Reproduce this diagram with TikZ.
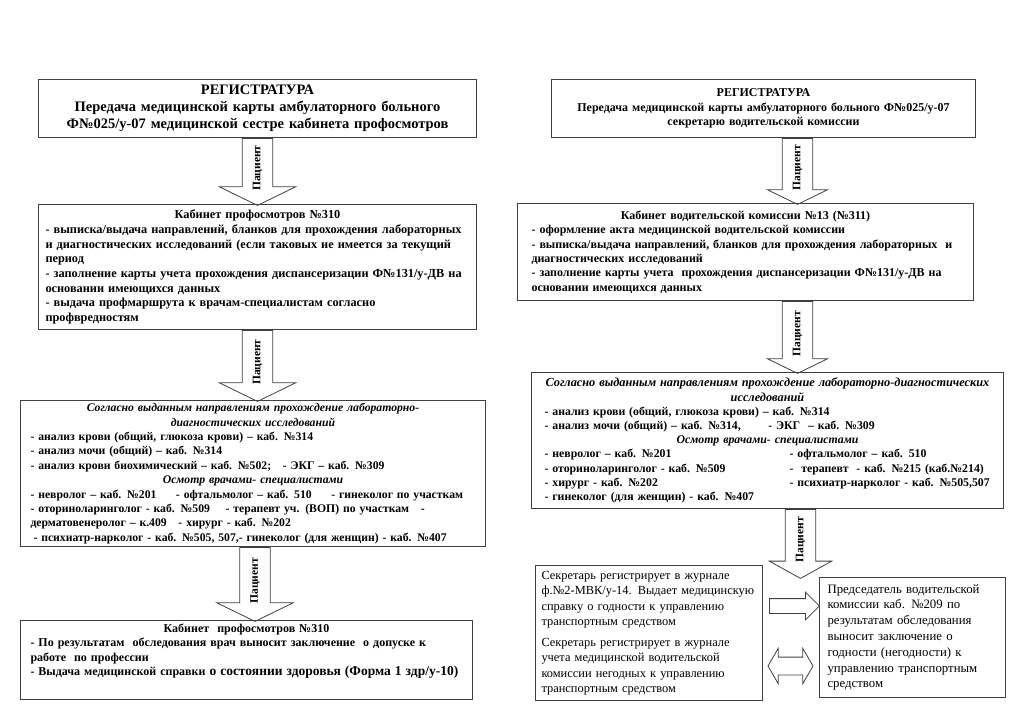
\documentclass[tikz,border=0pt]{standalone}
\usepackage{fontspec}
\setmainfont{Liberation Serif}
\usetikzlibrary{positioning}
\usetikzlibrary{calc}
\usetikzlibrary{shapes.arrows}

\newcommand{\fsz}[2]{\fontsize{#1}{#2}\selectfont}
\newcommand{\ctr}[1]{\makebox[\hsize][c]{#1}}
\newcommand{\leftcol}[1]{\makebox[245pt][l]{#1}}

\begin{document}
\begin{tikzpicture}[x=1pt, y=-1pt,
    box/.style={draw=black!75, line width=1pt, anchor=north west, inner xsep=8pt, inner ysep=2pt, align=left},
    patient/.style={single arrow, draw=black!75, line width=0.8pt, rotate=90, shape border rotate=180,
        single arrow head extend=23pt, single arrow tip angle=128, inner xsep=1pt, inner ysep=10pt,
        anchor=tail, font=\bfseries\fsz{11.5}{12}},
    blockarrow/.style={draw=black!75, line width=0.8pt, inner xsep=0pt}]
\useasboundingbox (0,0) rectangle (1024,721);

\node[box, text width=422pt, minimum height=58pt, align=center, font=\bfseries\fsz{14.5}{17}] (reg1) at (38,79)
    {РЕГИСТРАТУРА\\Передача медицинской карты амбулаторного больного\\Ф№025/у-07 медицинской сестре кабинета профосмотров};

\node[box, text width=424pt, inner xsep=7pt, minimum height=125pt, font=\bfseries\fsz{12.3}{14.7}] (kab1) at (38,204)
    {\ctr{Кабинет профосмотров №310}\\
    - выписка/выдача направлений, бланков для прохождения лабораторных\\
    и диагностических исследований (если таковых не имеется за текущий\\
    период\\
    - заполнение карты учета прохождения диспансеризации Ф№131/у-ДВ на\\
    основании имеющихся данных\\
    - выдача профмаршрута к врачам-специалистам согласно\\
    профвредностям};

\node[box, inner xsep=10pt, inner ysep=0pt, text width=445pt, minimum height=146pt, font=\bfseries\fsz{11.7}{14.4}] (lab1) at (20,400)
    {\ctr{\textit{Согласно выданным направлениям прохождение лабораторно-}}\\
    \ctr{\textit{диагностических исследований}}\\
    - анализ крови (общий, глюкоза крови) – каб. №314\\
    - анализ мочи (общий) – каб. №314\\
    - анализ крови биохимический – каб. №502; \ \ - ЭКГ – каб. №309\\
    \ctr{\textit{Осмотр врачами- специалистами}}\\
    - невролог – каб. №201 \quad\ - офтальмолог – каб. 510 \quad\ - гинеколог по участкам\\
    - оториноларинголог - каб. №509 \quad - терапевт уч. (ВОП) по участкам \ \ -\\
    дерматовенеролог – к.409 \ \ - хирург - каб. №202\\
    \hspace*{3pt}- психиатр-нарколог - каб. №505, 507,- гинеколог (для женщин) - каб. №407};

\node[box, inner xsep=10pt, inner ysep=3pt, text width=432pt, text depth=64pt, font=\bfseries\fsz{12}{14.5}] (itog1) at (20,620)
    {\ctr{Кабинет \ профосмотров №310}\\
    - По результатам \ обследования врач выносит заключение \ о допуске к\\
    работе \ по профессии\\
    - Выдача медицинской справки {\fsz{13.5}{15}о состоянии здоровья (Форма 1 здр/у-10)}};

\node[patient, minimum height=67pt] (p1) at (reg1.south) {Пациент};
\node[patient, minimum height=71pt] (p2) at (kab1.south) {Пациент};
\node[patient, minimum height=74pt] (p3) at ($(lab1.south)+(2,0)$) {Пациент};

\node[box, text width=408pt, minimum height=58pt, align=center, font=\bfseries\fsz{12}{14.5}] (reg2) at (551,79)
    {РЕГИСТРАТУРА\\Передача медицинской карты амбулаторного больного Ф№025/у-07\\секретарю водительской комиссии};

\node[box, inner xsep=14pt, text width=428pt, minimum height=97pt, font=\bfseries\fsz{12}{14.4}] (kab2) at (517,203)
    {\ctr{Кабинет водительской комиссии №13 (№311)}\\
    - оформление акта медицинской водительской комиссии\\
    - выписка/выдача направлений, бланков для прохождения лабораторных \ и\\
    диагностических исследований\\
    - заполнение карты учета \ прохождения диспансеризации Ф№131/у-ДВ на\\
    основании имеющихся данных};

\node[box, inner xsep=13pt, text width=446pt, minimum height=136pt, font=\bfseries\fsz{11.8}{14.2}] (lab2) at (531,372)
    {\ctr{\textit{\fsz{12.3}{14.2}Согласно выданным направлениям прохождение лабораторно-диагностических}}\\
    \ctr{\textit{\fsz{12.3}{14.2}исследований}}\\
    - анализ крови (общий, глюкоза крови) – каб. №314\\
    - анализ мочи (общий) – каб. №314, \qquad - ЭКГ \ – каб. №309\\
    \ctr{\textit{Осмотр врачами- специалистами}}\\
    \leftcol{- невролог – каб. №201}- офтальмолог – каб. 510\\
    \leftcol{- оториноларинголог - каб. №509}- \ терапевт \ - каб. №215 (каб.№214)\\
    \leftcol{- хирург - каб. №202}- психиатр-нарколог - каб. №505,507\\
    - гинеколог (для женщин) - каб. №407};

\node[box, inner xsep=6pt, text width=215pt, minimum height=135pt, font=\fsz{12.4}{15.5}] (sec1) at (535,565)
    {Секретарь регистрирует в журнале\\
    ф.№2-МВК/у-14. Выдает медицинскую\\
    справку о годности к управлению\\
    транспортным средством\\[5pt]
    Секретарь регистрирует в журнале\\
    учета медицинской водительской\\
    комиссии негодных к управлению\\
    транспортным средством};

\node[box, inner xsep=8pt, text width=170pt, minimum height=120pt, font=\fsz{12.8}{15.8}] (pred) at (819,577)
    {Председатель водительской\\
    комиссии каб. №209 по\\
    результатам обследования\\
    выносит заключение о\\
    годности (негодности) к\\
    управлению транспортным\\
    средством};

\node[patient, minimum height=66pt, single arrow head extend=15pt] (p4) at ($(reg2.south)+(34,0)$) {Пациент};
\node[patient, minimum height=72pt, single arrow head extend=15pt] (p5) at ($(kab2.south)+(52,0)$) {Пациент};
\node[patient, minimum height=69pt, single arrow head extend=16pt, single arrow tip angle=122] (p6) at ($(lab2.south)+(33,0)$) {Пациент};

\node[blockarrow, single arrow, anchor=tail, minimum height=50pt, inner ysep=7pt,
    single arrow head extend=6.5pt, single arrow tip angle=90] (ar1) at ($(sec1.east)+(6,-27)$) {};
\node[blockarrow, double arrow, minimum height=45pt, inner ysep=8.5pt,
    double arrow head extend=9pt, double arrow tip angle=120] (ar2) at ($(sec1.east)+(27.5,33)$) {};
\end{tikzpicture}
\end{document}
